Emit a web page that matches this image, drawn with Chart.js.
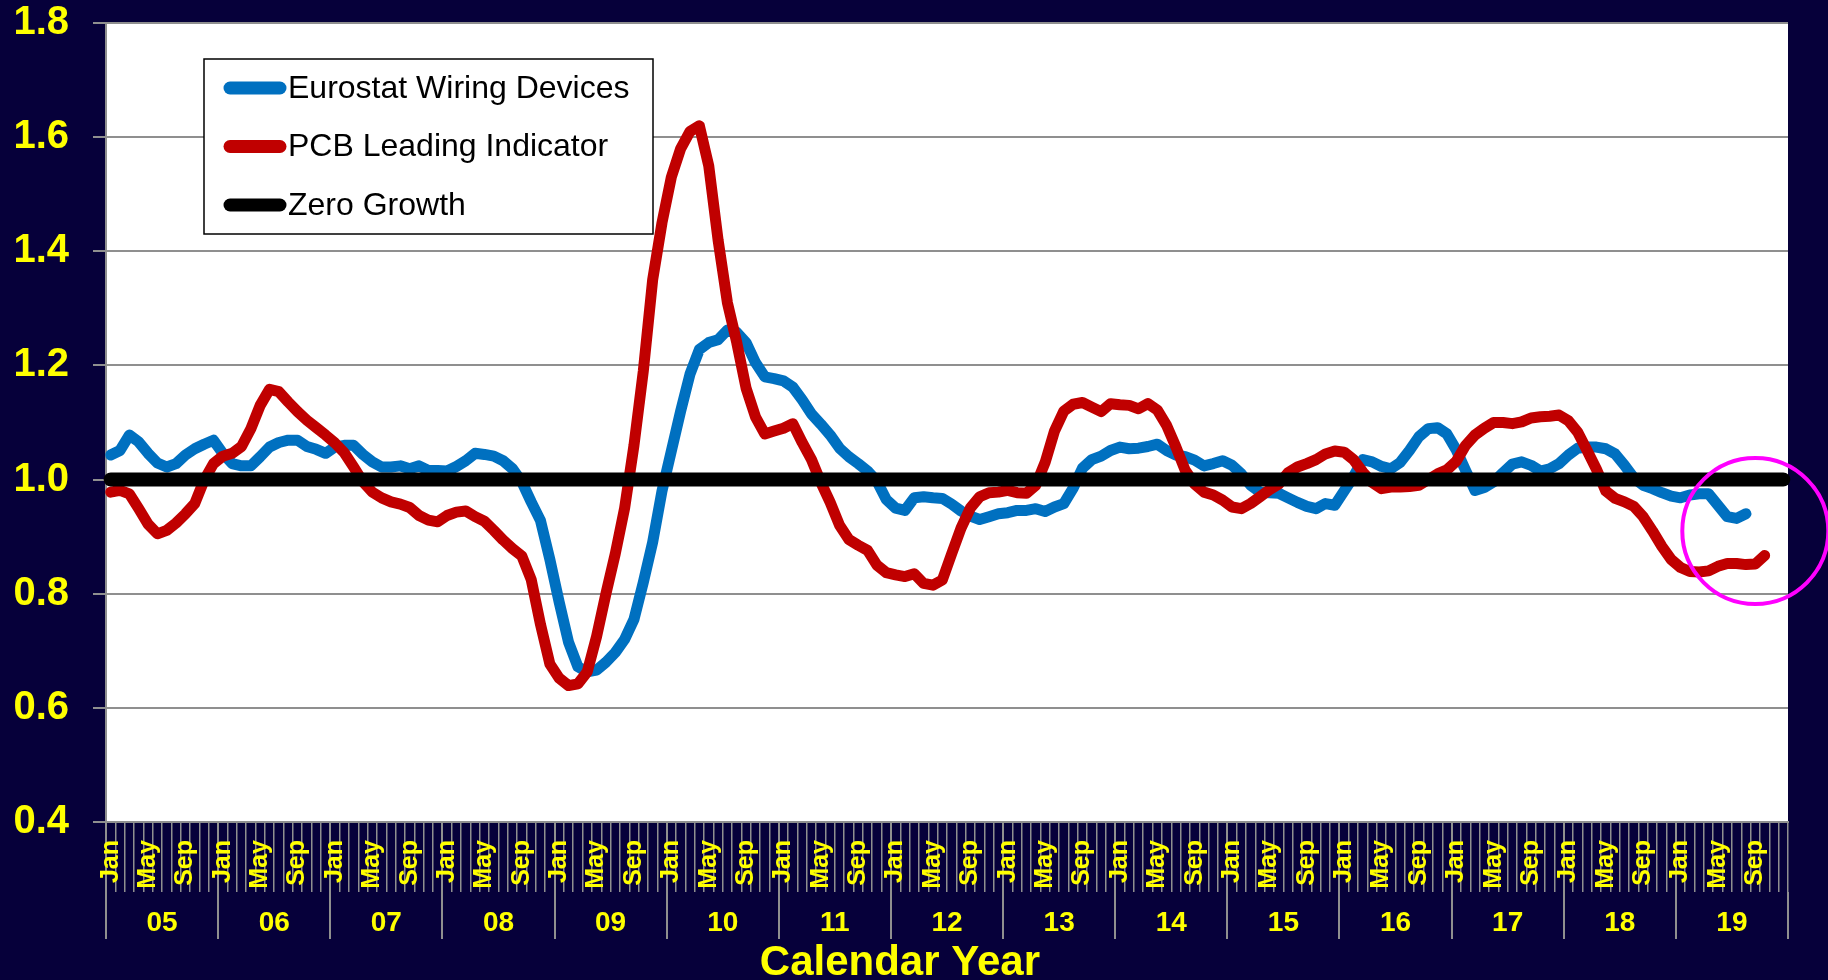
<!DOCTYPE html>
<html>
<head>
<meta charset="utf-8">
<title>Eurostat Wiring Devices vs PCB Leading Indicator</title>
<script src="https://cdn.jsdelivr.net/npm/chart.js@4.4.0/dist/chart.umd.min.js"></script>
<style>
    html, body { margin: 0; padding: 0; background: #06003a; }
    #wrap { width: 1828px; height: 980px; position: relative; }
</style>
</head>
<body>
<div id="wrap"><canvas id="chart"></canvas></div>
<script>
// Category labels
const years = ['05', '06', '07', '08', '09', '10', '11', '12', '13', '14', '15', '16', '17', '18', '19'];
const monthNames = ['Jan', 'Feb', 'Mar', 'Apr', 'May', 'Jun', 'Jul', 'Aug', 'Sep', 'Oct', 'Nov', 'Dec'];
const shownMonths = ['Jan', 'May', 'Sep'];
const yTicks = [0.4, 0.6, 0.8, 1.0, 1.2, 1.4, 1.6, 1.8];

// Monthly values, one row per year (Jan 05 .. Aug 19)
const eurostat = [
    1.043, 1.051, 1.078, 1.066, 1.046, 1.029, 1.022, 1.028, 1.043, 1.054, 1.062, 1.069,
    1.046, 1.028, 1.024, 1.024, 1.040, 1.057, 1.065, 1.069, 1.069, 1.058, 1.053, 1.046,
    1.057, 1.060, 1.060, 1.044, 1.031, 1.022, 1.022, 1.024, 1.019, 1.024, 1.016, 1.016,
    1.015, 1.023, 1.033, 1.046, 1.044, 1.041, 1.033, 1.019, 0.996, 0.961, 0.928, 0.860,
    0.785, 0.715, 0.672, 0.663, 0.666, 0.680, 0.697, 0.720, 0.755, 0.820, 0.890, 0.980,
    1.050, 1.120, 1.185, 1.228, 1.240, 1.245, 1.262, 1.258, 1.240, 1.205, 1.180, 1.177,
    1.173, 1.162, 1.140, 1.115, 1.097, 1.078, 1.055, 1.040, 1.028, 1.015, 0.997, 0.965,
    0.950, 0.946, 0.968, 0.970, 0.968, 0.967, 0.957, 0.945, 0.936, 0.930, 0.935, 0.940,
    0.942, 0.946, 0.946, 0.949, 0.944, 0.952, 0.958, 0.985, 1.020, 1.035, 1.041, 1.051,
    1.057, 1.054, 1.055, 1.058, 1.062, 1.051, 1.043, 1.040, 1.034, 1.024, 1.028, 1.033,
    1.025, 1.010, 0.990, 0.978, 0.977, 0.976, 0.968, 0.960, 0.953, 0.949, 0.958, 0.955,
    0.980, 1.005, 1.035, 1.031, 1.023, 1.019, 1.030, 1.051, 1.075, 1.089, 1.091, 1.080,
    1.052, 1.016, 0.981, 0.986, 0.996, 1.012, 1.027, 1.031, 1.025, 1.015, 1.019, 1.028,
    1.043, 1.055, 1.057, 1.057, 1.054, 1.045, 1.025, 1.003, 0.990, 0.984, 0.977, 0.971,
    0.968, 0.973, 0.975, 0.975, 0.955, 0.935, 0.932, 0.940
];

// Monthly values, one row per year (Jan 05 .. Oct 19)
const pcbLeading = [
    0.978, 0.981, 0.975, 0.949, 0.922, 0.905, 0.911, 0.924, 0.940, 0.958, 0.999, 1.028,
    1.041, 1.046, 1.058, 1.089, 1.130, 1.158, 1.154, 1.136, 1.119, 1.104, 1.091, 1.078,
    1.064, 1.047, 1.022, 0.996, 0.978, 0.968, 0.961, 0.957, 0.951, 0.937, 0.929, 0.926,
    0.937, 0.943, 0.945, 0.935, 0.927, 0.911, 0.894, 0.879, 0.866, 0.825, 0.746, 0.677,
    0.652, 0.639, 0.642, 0.663, 0.725, 0.800, 0.870, 0.950, 1.060, 1.190, 1.350, 1.450,
    1.530, 1.580, 1.610, 1.620, 1.550, 1.420, 1.310, 1.240, 1.160, 1.110, 1.080, 1.085,
    1.090, 1.098, 1.065, 1.035, 0.995, 0.960, 0.920, 0.895, 0.885, 0.876, 0.850, 0.837,
    0.833, 0.830, 0.835, 0.818, 0.815, 0.824, 0.870, 0.915, 0.950, 0.970, 0.977, 0.978,
    0.981, 0.977, 0.976, 0.990, 1.030, 1.085, 1.120, 1.132, 1.135, 1.127, 1.119, 1.133,
    1.131, 1.130, 1.124, 1.133, 1.122, 1.095, 1.057, 1.016, 0.992, 0.978, 0.973, 0.964,
    0.952, 0.949, 0.958, 0.970, 0.982, 0.992, 1.012, 1.022, 1.028, 1.035, 1.045, 1.050,
    1.048, 1.035, 1.013, 0.995, 0.984, 0.987, 0.987, 0.988, 0.990, 1.000, 1.010, 1.017,
    1.032, 1.060, 1.078, 1.090, 1.100, 1.100, 1.098, 1.101, 1.108, 1.110, 1.111, 1.113,
    1.103, 1.083, 1.051, 1.018, 0.980, 0.967, 0.961, 0.953, 0.935, 0.910, 0.883, 0.860,
    0.846, 0.839, 0.838, 0.840, 0.848, 0.853, 0.853, 0.851, 0.852, 0.867
];

const zeroGrowthLevel = 1.0;
const highlight = { month: 'Sep 19', value: 0.91 };

const FONT = '"Liberation Sans", Arial, sans-serif';
const YELLOW = '#FFFF00';
const GRID = '#8f8f8f';
const NAVY = '#06003a';

// one category per month, Jan 05 .. Dec 19
const months = [];
years.forEach(y => monthNames.forEach(m => months.push(m + ' ' + y)));

// navy page, white plot area
const backdrop = {
    id: 'backdrop',
    beforeDraw(chart) {
        const { ctx, chartArea: a } = chart;
        ctx.save();
        ctx.fillStyle = NAVY;
        ctx.fillRect(0, 0, chart.width, chart.height);
        ctx.fillStyle = '#ffffff';
        ctx.fillRect(a.left, a.top, a.right - a.left, a.bottom - a.top);
        ctx.restore();
    }
};

// boxed legend inside the plot, highlight circle and axis title
const overlay = {
    id: 'overlay',
    afterDraw(chart) {
        const { ctx, chartArea: a, scales } = chart;
        ctx.save();

        const bx = a.left + 98, by = a.top + 36, bw = 449, bh = 175;
        ctx.fillStyle = '#ffffff';
        ctx.fillRect(bx, by, bw, bh);
        ctx.strokeStyle = '#000000';
        ctx.lineWidth = 1.5;
        ctx.strokeRect(bx, by, bw, bh);

        ctx.font = '32px ' + FONT;
        ctx.textAlign = 'left';
        ctx.textBaseline = 'middle';
        chart.data.datasets.forEach((ds, i) => {
            const cy = by + 29 + i * 58.5;
            ctx.strokeStyle = ds.borderColor;
            ctx.lineWidth = 13;
            ctx.lineCap = 'round';
            ctx.beginPath();
            ctx.moveTo(bx + 26, cy);
            ctx.lineTo(bx + 76, cy);
            ctx.stroke();
            ctx.fillStyle = '#000000';
            ctx.fillText(ds.label, bx + 84, cy + 1);
        });

        // magenta circle round the latest months
        const cx = scales.x.getPixelForValue(months.indexOf(highlight.month));
        const cyc = scales.y.getPixelForValue(highlight.value);
        ctx.strokeStyle = '#FF00FF';
        ctx.lineWidth = 4;
        ctx.beginPath();
        ctx.arc(cx, cyc, 73, 0, Math.PI * 2);
        ctx.stroke();

        ctx.fillStyle = YELLOW;
        ctx.font = 'bold 42px ' + FONT;
        ctx.textAlign = 'center';
        ctx.textBaseline = 'alphabetic';
        ctx.fillText('Calendar Year', a.left + (a.right - a.left) * 0.472, chart.height - 5);
        ctx.restore();
    }
};

const lineStyle = {
    pointRadius: 0,
    pointHoverRadius: 0,
    tension: 0,
    borderJoinStyle: 'round',
    borderCapStyle: 'round',
    fill: false
};

new Chart(document.getElementById('chart'), {
    type: 'line',
    data: {
        labels: months,
        datasets: [
            { ...lineStyle, label: 'Eurostat Wiring Devices', data: eurostat,
              borderColor: '#0070C0', borderWidth: 11, order: 2 },
            { ...lineStyle, label: 'PCB Leading Indicator', data: pcbLeading,
              borderColor: '#C00000', borderWidth: 11, order: 1 },
            { ...lineStyle, label: 'Zero Growth',
              data: [{ x: months[0], y: zeroGrowthLevel }, { x: months[months.length - 1], y: zeroGrowthLevel }],
              borderColor: '#000000', borderWidth: 14, order: 0 }
        ]
    },
    options: {
        responsive: true,
        maintainAspectRatio: false,
        animation: false,
        layout: { padding: { top: 23, right: 40, bottom: 41, left: 0 } },
        plugins: {
            legend: { display: false },
            tooltip: { enabled: false }
        },
        scales: {
            x: {
                type: 'category',
                offset: true,
                weight: 0,
                grid: {
                    offset: true,
                    drawOnChartArea: false,
                    color: GRID,
                    lineWidth: ctx => (ctx.index % 12 === 0 ? 2 : 1.5),
                    tickLength: 70
                },
                border: { color: GRID, width: 2 },
                ticks: {
                    autoSkip: false,
                    minRotation: 90,
                    maxRotation: 90,
                    padding: -52,
                    color: YELLOW,
                    font: { family: FONT, size: 25, weight: 'bold' },
                    callback: (value, index) => {
                        const m = monthNames[index % 12];
                        return shownMonths.includes(m) ? m : '';
                    }
                },
                afterFit: scale => { scale.height = 70; scale.paddingLeft = 0; scale.paddingRight = 0; }
            },
            x2: {
                type: 'category',
                position: 'bottom',
                labels: years,
                offset: true,
                weight: 1,
                grid: {
                    offset: true,
                    drawOnChartArea: false,
                    color: GRID,
                    lineWidth: 2,
                    tickLength: 47
                },
                border: { display: false },
                ticks: {
                    autoSkip: false,
                    maxRotation: 0,
                    padding: -30,
                    color: YELLOW,
                    font: { family: FONT, size: 28, weight: 'bold', lineHeight: 1 }
                },
                afterFit: scale => { scale.height = 47; scale.paddingLeft = 0; scale.paddingRight = 0; }
            },
            y: {
                min: yTicks[0],
                max: yTicks[yTicks.length - 1],
                afterBuildTicks: scale => { scale.ticks = yTicks.map(v => ({ value: v })); },
                grid: { color: GRID, lineWidth: 2, tickLength: 13 },
                border: { color: GRID, width: 2 },
                ticks: {
                    padding: 24,
                    color: YELLOW,
                    font: { family: FONT, size: 40, weight: 'bold', lineHeight: 1 },
                    callback: v => Number(v).toFixed(1)
                },
                afterFit: scale => { scale.width = 106; scale.paddingTop = 0; scale.paddingBottom = 0; }
            }
        }
    },
    plugins: [backdrop, overlay]
});
</script>
</body>
</html>
